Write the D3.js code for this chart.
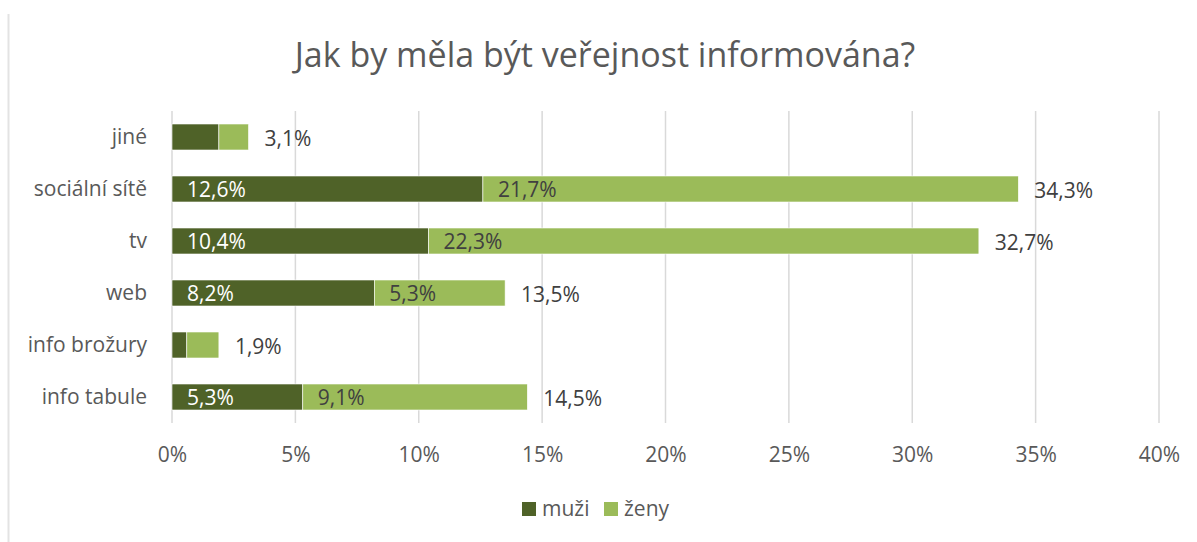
<!DOCTYPE html>
<html>
<head>
<meta charset="utf-8">
<script src="https://cdn.jsdelivr.net/npm/d3@7/dist/d3.min.js"></script>
<style>
	body { margin: 0; background: #fff; }
	svg text { font-family: "Open Sans", "Noto Sans", sans-serif; }
</style>
</head>
<body>
<div id="chart"></div>
<script>
//Dados
var categories = ["jiné", "sociální sítě", "tv", "web", "info brožury", "info tabule"];
var muzi = [1.9, 12.6, 10.4, 8.2, 0.6, 5.3];
var zeny = [1.2, 21.7, 22.3, 5.3, 1.3, 9.1];
var totals = [3.1, 34.3, 32.7, 13.5, 1.9, 14.5];
var showInside = [false, true, true, true, false, true];
var seriesNames = ["muži", "ženy"];
var ticks = [0, 5, 10, 15, 20, 25, 30, 35, 40];

(function () {
	'use strict';
	var W = 1197, H = 542;
	var colors = { muzi: "#4f6228", zeny: "#9bbb59", grid: "#d9d9d9", text: "#595959", dark: "#404040" };
	var fmt = function (v) { return String(v.toFixed(1)).replace(".", ",") + "%"; };
	var fs = "21px";

	var svg = d3.select("#chart").append("svg")
		.attr("width", W)
		.attr("height", H);

	//Borda esquerda
	svg.append("line")
		.attr("x1", 8.5).attr("x2", 8.5)
		.attr("y1", 14).attr("y2", H)
		.attr("stroke", "#e3e3e3").attr("stroke-width", 2);

	//Título
	svg.append("text")
		.attr("x", 605).attr("y", 67)
		.attr("text-anchor", "middle")
		.style("font-size", "34px")
		.style("fill", colors.text)
		.text("Jak by měla být veřejnost informována?");

	//Escalas
	var x = d3.scaleLinear().domain([0, 40]).range([172, 1159]);
	var y = d3.scaleBand().domain(categories).range([111, 423]).paddingInner(0.5).paddingOuter(0.25);

	//Grade
	svg.append("g").selectAll("line")
		.data(ticks)
		.enter().append("line")
		.attr("x1", function (d) { return x(d); })
		.attr("x2", function (d) { return x(d); })
		.attr("y1", 111).attr("y2", 423)
		.attr("stroke", colors.grid)
		.attr("stroke-width", 1.5);

	//Eixo x
	var xAxis = svg.append("g")
		.attr("transform", "translate(0,423)")
		.call(d3.axisBottom(x).tickValues(ticks).tickSize(0).tickPadding(24).tickFormat(function (d) { return d + "%"; }));
	xAxis.select(".domain").remove();
	xAxis.selectAll("text")
		.attr("font-family", null)
		.style("font-size", fs)
		.style("fill", colors.text);

	//Eixo y
	var yAxis = svg.append("g")
		.attr("transform", "translate(172,0)")
		.call(d3.axisLeft(y).tickSize(0).tickPadding(25));
	yAxis.select(".domain").remove();
	yAxis.selectAll("text")
		.attr("font-family", null)
		.style("font-size", fs)
		.style("fill", colors.text);

	//Barras
	var rows = categories.map(function (c, i) {
		return { cat: c, m: muzi[i], z: zeny[i], t: totals[i], inside: showInside[i] };
	});
	var g = svg.append("g").selectAll("g")
		.data(rows)
		.enter().append("g");

	g.append("rect")
		.attr("x", x(0))
		.attr("y", function (d) { return y(d.cat); })
		.attr("width", function (d) { return x(d.m) - x(0); })
		.attr("height", y.bandwidth())
		.attr("fill", colors.muzi)
		.attr("stroke", "#fff").attr("stroke-width", 0.6);

	g.append("rect")
		.attr("x", function (d) { return x(d.m); })
		.attr("y", function (d) { return y(d.cat); })
		.attr("width", function (d) { return x(d.m + d.z) - x(d.m); })
		.attr("height", y.bandwidth())
		.attr("fill", colors.zeny)
		.attr("stroke", "#fff").attr("stroke-width", 0.6);

	//Rótulos internos
	var inside = g.filter(function (d) { return d.inside; });
	inside.append("text")
		.attr("x", x(0) + 15)
		.attr("y", function (d) { return y(d.cat) + y.bandwidth() / 2 + 1; })
		.attr("dy", "0.35em")
		.style("font-size", fs)
		.style("fill", "#fff")
		.text(function (d) { return fmt(d.m); });
	inside.append("text")
		.attr("x", function (d) { return x(d.m) + 15; })
		.attr("y", function (d) { return y(d.cat) + y.bandwidth() / 2 + 1; })
		.attr("dy", "0.35em")
		.style("font-size", fs)
		.style("fill", colors.dark)
		.text(function (d) { return fmt(d.z); });

	//Totais
	g.append("text")
		.attr("x", function (d) { return x(d.m + d.z) + 16; })
		.attr("y", function (d) { return y(d.cat) + y.bandwidth() / 2 + 2; })
		.attr("dy", "0.35em")
		.style("font-size", fs)
		.style("fill", colors.dark)
		.text(function (d) { return fmt(d.t); });

	//Legenda
	var legend = svg.append("g").selectAll("g")
		.data(seriesNames)
		.enter().append("g")
		.attr("transform", function (d, i) { return "translate(" + (522 + i * 82) + ",502)"; });
	legend.append("rect")
		.attr("width", 14).attr("height", 14)
		.attr("fill", function (d, i) { return i === 0 ? colors.muzi : colors.zeny; });
	legend.append("text")
		.attr("x", 20).attr("y", 7)
		.attr("dy", "0.35em")
		.style("font-size", fs)
		.style("fill", colors.text)
		.text(function (d) { return d; });
}());
</script>
</body>
</html>
